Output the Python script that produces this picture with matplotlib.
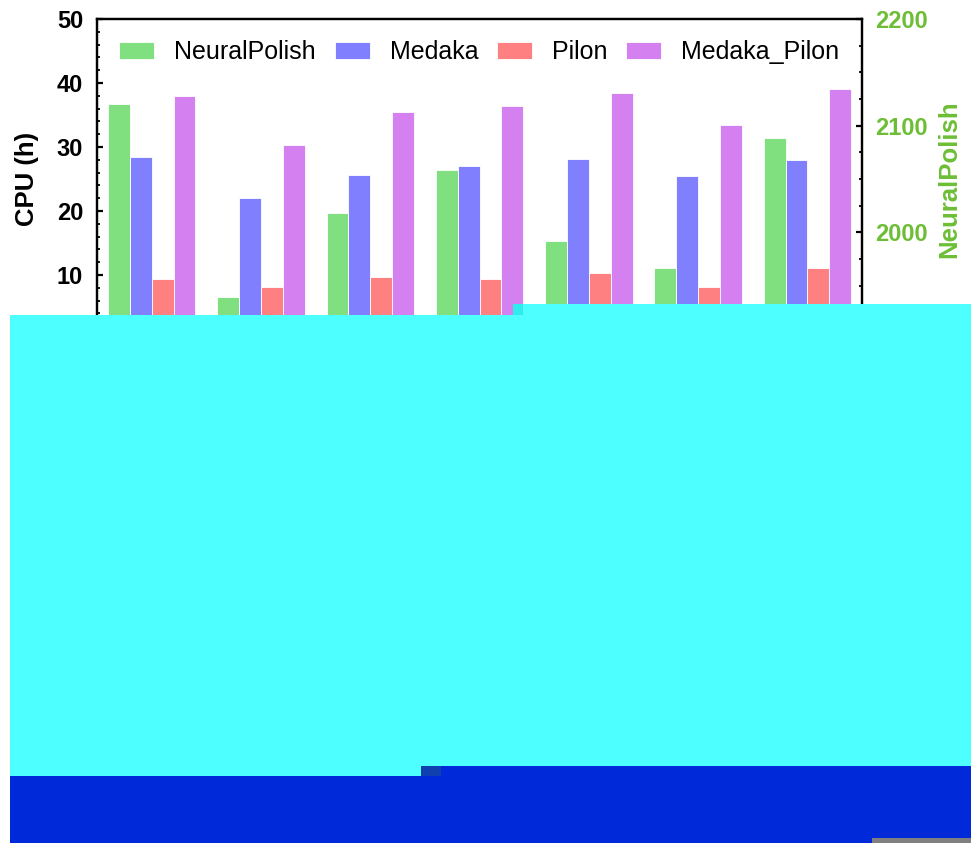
import numpy as np
import matplotlib
matplotlib.use("Agg")
from matplotlib import pyplot as plt
from matplotlib.patches import Rectangle

plt.rcParams['font.family'] = ['Liberation Sans', 'DejaVu Sans']

# CPU time per run (hours); NeuralPolish uses its own scale on the right
neuralpolish = [2120, 1939, 2018, 2058, 1992, 1967, 2088]
medaka = [28.4, 22.1, 25.7, 27.1, 28.2, 25.4, 27.9]
pilon = [9.4, 8.2, 9.7, 9.3, 10.3, 8.1, 11.1]
medaka_pilon = [37.9, 30.3, 35.5, 36.4, 38.4, 33.4, 39.1]

colors = ['#80E080', '#8080FF', '#FF8080', '#D580F0']
right_color = '#6DBE36'

W, H = 971, 843
fig = plt.figure(figsize=(W / 100, H / 100), dpi=100)
ax = fig.add_axes([97 / W, 1 - 339 / H, (862 - 97) / W, (339 - 19) / H])
ax2 = ax.twinx()

x = np.arange(len(medaka))
w = 0.2
b1 = ax2.bar(x - 1.5 * w, neuralpolish, w, color=colors[0], edgecolor='white', linewidth=0.6)
b2 = ax.bar(x - 0.5 * w, medaka, w, color=colors[1], edgecolor='white', linewidth=0.6)
b3 = ax.bar(x + 0.5 * w, pilon, w, color=colors[2], edgecolor='white', linewidth=0.6)
b4 = ax.bar(x + 1.5 * w, medaka_pilon, w, color=colors[3], edgecolor='white', linewidth=0.6)

ax.set_xlim(-0.5, len(x) - 0.5)
ax.set_ylim(0, 50)
ax2.set_ylim(1900, 2200)
ax.set_yticks([0, 10, 20, 30, 40, 50])
ax.set_yticks(np.arange(0, 51, 2), minor=True)
ax2.set_yticks([1900, 2000, 2100, 2200])
ax2.set_yticks(np.arange(1900, 2201, 25), minor=True)
ax.set_xticks(x)
ax.set_xticklabels([])

for a in (ax, ax2):
    for s in a.spines.values():
        s.set_linewidth(1.6)
    a.tick_params(which='major', direction='in', length=4, width=1.6, labelsize=17)
    a.tick_params(which='minor', direction='in', length=2.5, width=1.3)
ax.tick_params(axis='y', pad=10)
ax2.tick_params(axis='y', labelcolor=right_color, pad=9.5)
for lab in ax.get_yticklabels() + ax2.get_yticklabels():
    lab.set_fontweight('bold')

ax.set_ylabel('CPU (h)', fontsize=18.5, fontweight='bold', labelpad=13)
ax2.set_ylabel('NeuralPolish', fontsize=18.5, fontweight='bold', color=right_color, labelpad=7)

ax2.legend([b1, b2, b3, b4], ['NeuralPolish', 'Medaka', 'Pilon', 'Medaka_Pilon'],
           loc='upper center', ncol=4, frameon=False, fontsize=18,
           handlelength=1.4, handleheight=0.72, handletextpad=0.8,
           columnspacing=0.75, borderaxespad=0.45)

# overlay blocks
def block(x0, y0, x1, y1, c):
    fig.add_artist(Rectangle((x0 / W, 1 - y1 / H), (x1 - x0) / W, (y1 - y0) / H,
                             transform=fig.transFigure, facecolor=c, edgecolor='none', zorder=10))

block(10, 315, 971, 776, '#4DFFFF')
block(523, 304, 971, 315, '#4DFFFF')
block(513, 304, 523, 315, '#2FEDEE')
block(10, 776, 971, 843, '#0029DA')
block(421, 766, 971, 776, '#0029DA')
block(421, 766, 441, 776, '#1040B0')
block(872, 838, 971, 843, '#808080')

fig.savefig('out.png', dpi=100)
